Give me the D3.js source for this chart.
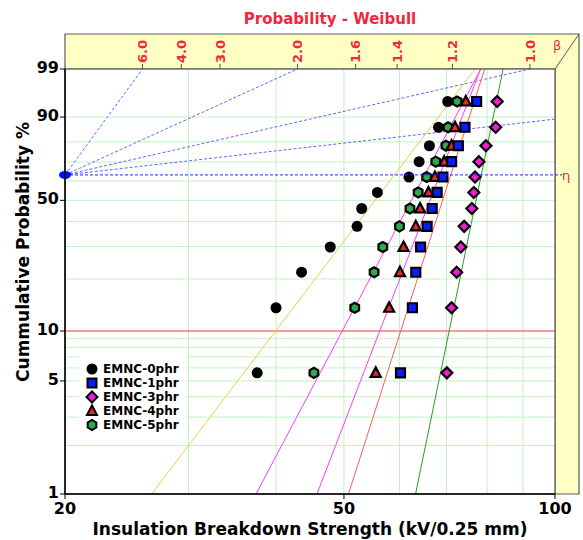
<!DOCTYPE html>
<html>
<head>
<meta charset="utf-8">
<script src="https://cdn.jsdelivr.net/npm/d3@7"></script>
<style>
  body { margin: 0; background: #fff; }
  text { font-family: "DejaVu Sans", sans-serif; }
</style>
</head>
<body>
<div id="canvas"></div>
<script>
const series_names = ['EMNC-0phr', 'EMNC-1phr', 'EMNC-3phr', 'EMNC-4phr', 'EMNC-5phr'];
// median rank (%) of each of the 12 specimens
const probabilities = [5.6, 13.7, 21.8, 29.8, 37.9, 46.0, 54.0, 62.1, 70.2, 78.2, 86.3, 94.4];
const emnc_0phr = [37.6, 40.0, 43.5, 47.8, 52.2, 53.0, 55.8, 61.9, 64.0, 66.2, 68.2, 70.3];
const emnc_1phr = [60.2, 62.6, 63.3, 64.3, 65.7, 66.8, 67.9, 69.2, 71.2, 72.8, 74.4, 77.3];
const emnc_3phr = [70.1, 71.2, 72.4, 73.4, 74.2, 76.1, 76.6, 76.9, 77.9, 79.7, 82.3, 82.7];
const emnc_4phr = [55.5, 58.0, 60.1, 60.8, 63.3, 64.2, 66.0, 67.4, 69.5, 71.2, 72.0, 74.6];
const emnc_5phr = [45.3, 51.8, 55.2, 56.8, 60.0, 62.1, 63.8, 65.6, 67.6, 69.9, 70.4, 72.5];
// weibull fit of each series (shape, scale)
const fit_beta = [5.77, 13.7, 21.3, 11.4, 8.3];
const fit_eta = [59.0, 71.0, 78.5, 68.5, 65.2];

const beta_ticks = [6.0, 4.0, 3.0, 2.0, 1.6, 1.4, 1.2, 1.0];
const beta_lines = [6.0, 2.0, 1.0, 0.5];
const y_tick_labels = [1, 5, 10, 50, 90, 99];
const y_grid = [1, 2, 3, 4, 5, 6, 7, 8, 9, 10, 20, 30, 40, 50, 60, 70, 80, 90, 99];
const x_tick_labels = [20, 50, 100];
const x_grid = [30, 40, 50, 60, 70, 80, 90];

const series = [emnc_0phr, emnc_1phr, emnc_3phr, emnc_4phr, emnc_5phr];
const marker_shape = ['circle', 'square', 'diamond', 'triangle', 'hexagon'];
const marker_fill = ['#000000', '#0a1cff', '#f21cd8', '#f5222d', '#2fa84f'];
const fit_color = ['#d6d64c', '#ff5c5c', '#2b9a2b', '#ff3cff', '#ff3cff'];

const L = 65, R = 555, T = 69, B = 494;
const weib = (p) => Math.log(-Math.log(1 - p / 100));
const x = d3.scaleLog().domain([20, 100]).range([L, R]);
const y = d3.scaleLinear().domain([weib(1), weib(99)]).range([B, T]);

const svg = d3.select('#canvas')
  .append('svg')
  .attr('width', 583)
  .attr('height', 540);

svg.append('defs').append('clipPath').attr('id', 'plot-clip')
  .append('rect').attr('x', L).attr('y', T).attr('width', R - L).attr('height', B - T);

// yellow beta panel on top and side
svg.append('path')
  .attr('d', `M${L},34 L579,34 L579,${B} L${R},${B} L${R},${T} L${L},${T} Z`)
  .attr('fill', '#ffffc4')
  .attr('stroke', '#5a5a5a')
  .attr('stroke-width', 1.2);
svg.append('line')
  .attr('x1', R).attr('y1', T).attr('x2', 579).attr('y2', 34)
  .attr('stroke', '#5a5a5a');

svg.append('rect')
  .attr('x', L).attr('y', T).attr('width', R - L).attr('height', B - T)
  .attr('fill', '#fff');

const plot = svg.append('g').attr('clip-path', 'url(#plot-clip)');

plot.selectAll('.hgrid')
  .data(y_grid)
  .join('line')
  .attr('class', 'hgrid')
  .attr('x1', L).attr('x2', R)
  .attr('y1', (d) => y(weib(d))).attr('y2', (d) => y(weib(d)))
  .attr('stroke', '#c2f2c2');
plot.selectAll('.vgrid')
  .data(x_grid)
  .join('line')
  .attr('class', 'vgrid')
  .attr('x1', (d) => x(d)).attr('x2', (d) => x(d))
  .attr('y1', T).attr('y2', B)
  .attr('stroke', '#c2f2c2');

// 10% line
plot.append('line')
  .attr('x1', L).attr('x2', R)
  .attr('y1', y(weib(10))).attr('y2', y(weib(10)))
  .attr('stroke', '#ff4848');

// legend background
plot.append('rect')
  .attr('x', 79).attr('y', 352).attr('width', 107).attr('height', 82)
  .attr('fill', '#fff');

// beta reference lines from the pivot at (20, 63.2%)
const pivot_x = x(20), pivot_y = y(0);
plot.selectAll('.beta-line')
  .data(beta_lines)
  .join('line')
  .attr('class', 'beta-line')
  .attr('x1', pivot_x).attr('y1', pivot_y)
  .attr('x2', (b) => x(20 * Math.exp(3 / b)))
  .attr('y2', y(3))
  .attr('stroke', '#4040ff')
  .attr('stroke-width', 1)
  .attr('stroke-dasharray', '3,2')
  .attr('opacity', 0.8);
svg.append('line')
  .attr('x1', pivot_x).attr('x2', R + 7)
  .attr('y1', pivot_y).attr('y2', pivot_y)
  .attr('stroke', '#2020ff')
  .attr('stroke-dasharray', '3,2');

// fitted lines
plot.selectAll('.fit')
  .data(series_names)
  .join('line')
  .attr('class', 'fit')
  .attr('x1', (d, i) => x(fit_eta[i] * Math.exp(weib(1) / fit_beta[i])))
  .attr('y1', y(weib(1)))
  .attr('x2', (d, i) => x(fit_eta[i] * Math.exp(weib(99) / fit_beta[i])))
  .attr('y2', y(weib(99)))
  .attr('stroke', (d, i) => fit_color[i])
  .attr('stroke-width', 1);

function shape(kind) {
  const p = d3.path();
  if (kind === 'circle') {
    p.arc(0, 0, 5.5, 0, 2 * Math.PI);
  } else if (kind === 'square') {
    p.rect(-4.5, -4.5, 9, 9);
  } else if (kind === 'diamond') {
    p.moveTo(0, -5.5); p.lineTo(5.5, 0); p.lineTo(0, 5.5); p.lineTo(-5.5, 0); p.closePath();
  } else if (kind === 'triangle') {
    p.moveTo(0, -5.5); p.lineTo(5, 4); p.lineTo(-5, 4); p.closePath();
  } else {
    for (let k = 0; k < 6; k++) {
      const a = Math.PI / 6 + k * Math.PI / 3;
      if (k === 0) p.moveTo(5 * Math.cos(a), 5 * Math.sin(a));
      else p.lineTo(5 * Math.cos(a), 5 * Math.sin(a));
    }
    p.closePath();
  }
  return p.toString();
}

const draw_order = [0, 4, 3, 1, 2];
draw_order.forEach((s) => {
  plot.selectAll(`.pt-${s}`)
    .data(series[s])
    .join('path')
    .attr('class', `pt-${s}`)
    .attr('transform', (d, i) => `translate(${x(d)},${y(weib(probabilities[i]))})`)
    .attr('d', shape(marker_shape[s]))
    .attr('fill', marker_fill[s])
    .attr('stroke', '#000')
    .attr('stroke-width', s === 0 ? 0 : 2.2)
    .attr('stroke-linejoin', 'miter');
});

// pivot point
svg.append('ellipse')
  .attr('cx', pivot_x).attr('cy', pivot_y)
  .attr('rx', 6).attr('ry', 4)
  .attr('fill', '#0010ff');

// legend
const legend = svg.selectAll('.legend')
  .data(series_names)
  .join('g')
  .attr('class', 'legend')
  .attr('transform', (d, i) => `translate(92,${369 + i * 14})`);
legend.append('path')
  .attr('d', (d, i) => shape(marker_shape[i]))
  .attr('fill', (d, i) => marker_fill[i])
  .attr('stroke', '#000')
  .attr('stroke-width', (d, i) => i === 0 ? 0 : 2);
legend.append('text')
  .attr('x', 11).attr('dy', '0.36em')
  .attr('font-size', '12px')
  .attr('font-weight', 'bold')
  .text((d) => d);

// plot border
svg.append('rect')
  .attr('x', L).attr('y', T).attr('width', R - L).attr('height', B - T)
  .attr('fill', 'none')
  .attr('stroke', '#5a5a5a')
  .attr('stroke-width', 1.2);
svg.append('line').attr('x1', L).attr('x2', L).attr('y1', T).attr('y2', B).attr('stroke', '#000').attr('stroke-width', 1.5);
svg.append('line').attr('x1', L).attr('x2', R).attr('y1', B).attr('y2', B).attr('stroke', '#000').attr('stroke-width', 1.5);

// y ticks
svg.selectAll('.ytick')
  .data(y_tick_labels)
  .join('line')
  .attr('class', 'ytick')
  .attr('x1', L - 5).attr('x2', L)
  .attr('y1', (d) => y(weib(d))).attr('y2', (d) => y(weib(d)))
  .attr('stroke', '#000');
svg.selectAll('.ylabel')
  .data(y_tick_labels)
  .join('text')
  .attr('class', 'ylabel')
  .attr('x', L - 6)
  .attr('y', (d) => y(weib(d)) - 2)
  .attr('dy', '0.36em')
  .attr('text-anchor', 'end')
  .attr('font-size', '16px')
  .attr('font-weight', 'bold')
  .text((d) => d);

// x ticks
svg.selectAll('.xtick')
  .data(x_tick_labels)
  .join('line')
  .attr('class', 'xtick')
  .attr('x1', (d) => x(d)).attr('x2', (d) => x(d))
  .attr('y1', B).attr('y2', B + 5)
  .attr('stroke', '#000');
svg.selectAll('.xlabel')
  .data(x_tick_labels)
  .join('text')
  .attr('class', 'xlabel')
  .attr('x', (d) => x(d))
  .attr('y', 514)
  .attr('text-anchor', 'middle')
  .attr('font-size', '16px')
  .attr('font-weight', 'bold')
  .text((d) => d);

// beta scale on top panel
const beta_x = (b) => x(20 * Math.exp(weib(99) / b));
svg.selectAll('.btick')
  .data(beta_ticks)
  .join('line')
  .attr('class', 'btick')
  .attr('x1', beta_x).attr('x2', beta_x)
  .attr('y1', T - 5).attr('y2', T)
  .attr('stroke', '#555');
svg.selectAll('.blabel')
  .data(beta_ticks)
  .join('text')
  .attr('class', 'blabel')
  .attr('transform', (d) => `translate(${beta_x(d)},${T - 6}) rotate(-90)`)
  .attr('dy', '0.36em')
  .attr('font-size', '13px')
  .attr('font-weight', 'bold')
  .attr('fill', '#f0283c')
  .text((d) => d.toFixed(1));
svg.append('text')
  .attr('x', 553).attr('y', 50)
  .attr('font-size', '13px')
  .attr('fill', '#f0283c')
  .text('β');
svg.append('text')
  .attr('x', 562).attr('y', 180)
  .attr('font-size', '13px')
  .attr('fill', '#f0283c')
  .text('η');

// titles
svg.append('text')
  .attr('x', 330).attr('y', 24)
  .attr('text-anchor', 'middle')
  .attr('font-size', '15px')
  .attr('font-weight', 'bold')
  .attr('fill', '#f0283c')
  .text('Probability - Weibull');
svg.append('text')
  .attr('x', 310).attr('y', 535)
  .attr('text-anchor', 'middle')
  .attr('font-size', '17px')
  .attr('font-weight', 'bold')
  .text('Insulation Breakdown Strength (kV/0.25 mm)');
svg.append('text')
  .attr('transform', 'translate(29,252) rotate(-90)')
  .attr('text-anchor', 'middle')
  .attr('font-size', '17px')
  .attr('font-weight', 'bold')
  .text('Cummulative Probability %');
</script>
</body>
</html>
